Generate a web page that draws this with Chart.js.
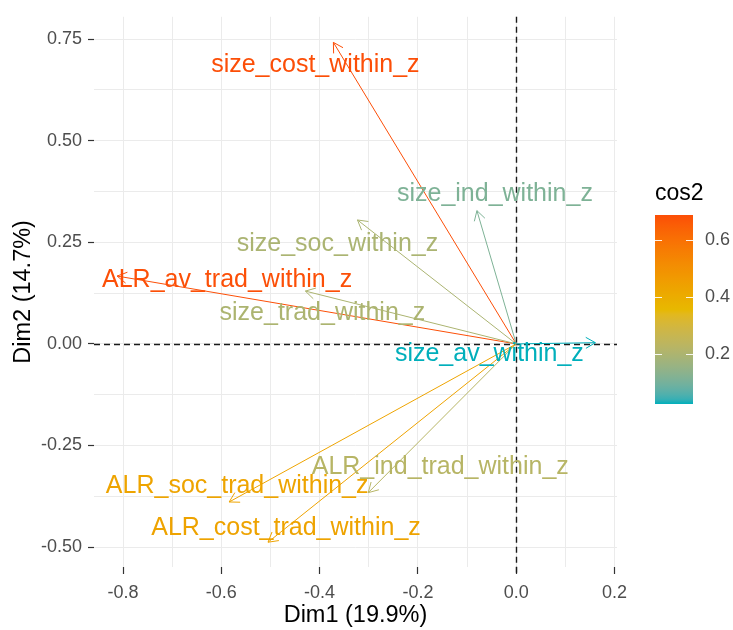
<!DOCTYPE html>
<html>
<head>
<meta charset="utf-8">
<script src="https://cdn.jsdelivr.net/npm/chart.js@4.4.1/dist/chart.umd.min.js"></script>
<style>
    html, body { margin: 0; padding: 0; background: #fff; }
    #wrap { width: 733px; height: 630px; }
</style>
</head>
<body>
<div id="wrap"><canvas id="pcaChart" width="733" height="630"></canvas></div>
<script>
(function() {
    'use strict';

    // variables
    const varNames = [
        'size_av_within_z', 'size_soc_within_z', 'size_ind_within_z', 'size_cost_within_z',
        'size_trad_within_z', 'ALR_av_trad_within_z', 'ALR_soc_trad_within_z',
        'ALR_ind_trad_within_z', 'ALR_cost_trad_within_z'
    ];
    const dim1 = [0.161, -0.323, -0.080, -0.372, -0.429, -0.812, -0.584, -0.301, -0.505];
    const dim2 = [0.003, 0.305, 0.328, 0.742, 0.130, 0.167, -0.389, -0.366, -0.488];
    const cos2 = [0.026, 0.197, 0.114, 0.689, 0.201, 0.687, 0.43, 0.225, 0.435];

    const xMajorTicks = [-0.8, -0.6, -0.4, -0.2, 0, 0.2];
    const xMinorTicks = [-0.7, -0.5, -0.3, -0.1, 0.1];
    const yMajorTicks = [-0.5, -0.25, 0, 0.25, 0.5, 0.75];
    const yMinorTicks = [-0.375, -0.125, 0.125, 0.375, 0.625];
    const legendTicks = [0.2, 0.4, 0.6];
    const gradientCols = ['#00AFBB', '#E7B800', '#FC4E07'];

    // label nudges in px (dx to text centre, dy to baseline) from arrow tip
    const labelNudge = [
        [-106, 18], [-20, 31], [18, -10], [-18, 30], [17, 29],
        [110, 11], [8, -9], [72, -19], [18, -7]
    ];

    const FONT = "'Liberation Sans', Arial, sans-serif";

    // ---- colour gradient in Lab, like ggplot ----
    function hexToRgb(h) {
        return [1, 3, 5].map(i => parseInt(h.substr(i, 2), 16));
    }
    function rgbToLab(c) {
        const lin = c.map(v => { v /= 255; return v <= 0.04045 ? v / 12.92 : Math.pow((v + 0.055) / 1.055, 2.4); });
        let x = (lin[0] * 0.4124 + lin[1] * 0.3576 + lin[2] * 0.1805) / 0.95047;
        let y = (lin[0] * 0.2126 + lin[1] * 0.7152 + lin[2] * 0.0722);
        let z = (lin[0] * 0.0193 + lin[1] * 0.1192 + lin[2] * 0.9505) / 1.08883;
        const f = t => t > 0.008856 ? Math.cbrt(t) : 7.787 * t + 16 / 116;
        x = f(x); y = f(y); z = f(z);
        return [116 * y - 16, 500 * (x - y), 200 * (y - z)];
    }
    function labToRgb(l) {
        let y = (l[0] + 16) / 116, x = l[1] / 500 + y, z = y - l[2] / 200;
        const fi = t => t * t * t > 0.008856 ? t * t * t : (t - 16 / 116) / 7.787;
        x = fi(x) * 0.95047; y = fi(y); z = fi(z) * 1.08883;
        let r = x * 3.2406 + y * -1.5372 + z * -0.4986;
        let g = x * -0.9689 + y * 1.8758 + z * 0.0415;
        let b = x * 0.0557 + y * -0.2040 + z * 1.0570;
        return [r, g, b].map(v => {
            v = v <= 0.0031308 ? 12.92 * v : 1.055 * Math.pow(v, 1 / 2.4) - 0.055;
            return Math.round(Math.max(0, Math.min(1, v)) * 255);
        });
    }
    const labCols = gradientCols.map(c => rgbToLab(hexToRgb(c)));
    const cMin = Math.min(...cos2), cMax = Math.max(...cos2);

    function colourAt(t) {
        t = Math.max(0, Math.min(1, t));
        const seg = t < 0.5 ? 0 : 1;
        const u = seg === 0 ? t * 2 : (t - 0.5) * 2;
        const a = labCols[seg], b = labCols[seg + 1];
        const rgb = labToRgb([0, 1, 2].map(i => a[i] + (b[i] - a[i]) * u));
        return 'rgb(' + rgb.join(',') + ')';
    }
    const cos2Colour = v => colourAt((v - cMin) / (cMax - cMin));

    const near = (list, v) => list.some(t => Math.abs(t - v) < 1e-9);

    // ---- plugins ----
    const zeroLines = {
        id: 'zeroLines',
        beforeDatasetsDraw(chart) {
            const { ctx, chartArea: a, scales: { x, y } } = chart;
            const x0 = Math.round(x.getPixelForValue(0)) + 0.5;
            const y0 = Math.round(y.getPixelForValue(0)) + 0.5;
            ctx.save();
            ctx.strokeStyle = '#1a1a1a';
            ctx.lineWidth = 1.4;
            ctx.setLineDash([6, 4]);
            ctx.beginPath();
            ctx.moveTo(x0, a.top); ctx.lineTo(x0, a.bottom + 6);
            ctx.moveTo(a.left, y0); ctx.lineTo(a.right, y0);
            ctx.stroke();
            ctx.restore();
        }
    };

    const arrowsAndLabels = {
        id: 'arrowsAndLabels',
        afterDatasetsDraw(chart) {
            const { ctx, scales: { x, y } } = chart;
            const x0 = x.getPixelForValue(0), y0 = y.getPixelForValue(0);
            ctx.save();
            varNames.forEach((name, i) => {
                const px = x.getPixelForValue(dim1[i]);
                const py = y.getPixelForValue(dim2[i]);
                const col = cos2Colour(cos2[i]);
                const ang = Math.atan2(py - y0, px - x0);
                const len = 11, spread = Math.PI / 6;
                ctx.strokeStyle = col;
                ctx.lineWidth = 1;
                ctx.beginPath();
                ctx.moveTo(px - len * Math.cos(ang - spread), py - len * Math.sin(ang - spread));
                ctx.lineTo(px, py);
                ctx.lineTo(px - len * Math.cos(ang + spread), py - len * Math.sin(ang + spread));
                ctx.stroke();

                ctx.fillStyle = col;
                ctx.font = '25px ' + FONT;
                ctx.textAlign = 'center';
                ctx.textBaseline = 'alphabetic';
                ctx.fillText(name, px + labelNudge[i][0], py + labelNudge[i][1]);
            });
            ctx.restore();
        }
    };

    const colourBar = {
        id: 'colourBar',
        afterDraw(chart) {
            const ctx = chart.ctx;
            const left = 655, width = 38, top = 215, bottom = 404;
            const valToY = v => bottom - (v - cMin) / (cMax - cMin) * (bottom - top);
            ctx.save();
            const grad = ctx.createLinearGradient(0, bottom, 0, top);
            for (let k = 0; k <= 40; k++) grad.addColorStop(k / 40, colourAt(k / 40));
            ctx.fillStyle = grad;
            ctx.fillRect(left, top, width, bottom - top);

            ctx.strokeStyle = 'rgba(255,255,255,0.9)';
            ctx.lineWidth = 1;
            ctx.font = '18px ' + FONT;
            ctx.fillStyle = '#4d4d4d';
            ctx.textAlign = 'left';
            ctx.textBaseline = 'middle';
            legendTicks.forEach(v => {
                const ty = Math.round(valToY(v)) + 0.5;
                ctx.beginPath();
                ctx.moveTo(left, ty); ctx.lineTo(left + 7, ty);
                ctx.moveTo(left + width - 7, ty); ctx.lineTo(left + width, ty);
                ctx.stroke();
                ctx.fillText(v.toFixed(1), left + width + 12, ty);
            });

            ctx.fillStyle = '#000';
            ctx.font = '23px ' + FONT;
            ctx.textBaseline = 'alphabetic';
            ctx.fillText('cos2', left, 200);
            ctx.restore();
        }
    };

    const datasets = varNames.map((name, i) => ({
        label: name,
        data: [{ x: 0, y: 0 }, { x: dim1[i], y: dim2[i] }],
        showLine: true,
        borderColor: cos2Colour(cos2[i]),
        borderWidth: 1,
        pointRadius: 0,
        pointHoverRadius: 0
    }));

    const gridStyle = major => ({
        color: '#ebebeb',
        lineWidth: 1,
        tickColor: ctx => near(major, ctx.tick.value) ? '#333333' : 'rgba(0,0,0,0)',
        tickWidth: 1.2
    });

    new Chart(document.getElementById('pcaChart'), {
        type: 'scatter',
        data: { datasets },
        plugins: [zeroLines, arrowsAndLabels, colourBar],
        options: {
            responsive: false,
            animation: false,
            events: [],
            layout: { padding: { left: 0, top: 12, right: 116, bottom: 0 } },
            plugins: { legend: { display: false }, tooltip: { enabled: false } },
            scales: {
                x: {
                    type: 'linear',
                    min: -0.859,
                    max: 0.205,
                    afterBuildTicks: s => { s.ticks = xMajorTicks.concat(xMinorTicks).sort((a, b) => a - b).map(v => ({ value: v })); },
                    afterFit: s => { s.height = 63; },
                    border: { display: false },
                    grid: Object.assign(gridStyle(xMajorTicks), { tickLength: 7 }),
                    ticks: {
                        padding: 8,
                        autoSkip: false,
                        maxRotation: 0,
                        color: '#4d4d4d',
                        font: { family: FONT, size: 18 },
                        callback: v => near(xMajorTicks, v) ? v.toFixed(1) : ''
                    },
                    title: {
                        display: true,
                        text: 'Dim1 (19.9%)',
                        color: '#000',
                        font: { family: FONT, size: 23.5 },
                        padding: { top: 0, bottom: 0 }
                    }
                },
                y: {
                    type: 'linear',
                    min: -0.549,
                    max: 0.805,
                    afterBuildTicks: s => { s.ticks = yMajorTicks.concat(yMinorTicks).sort((a, b) => a - b).map(v => ({ value: v })); },
                    afterFit: s => { s.width = 94; },
                    border: { display: false },
                    grid: Object.assign(gridStyle(yMajorTicks), { tickLength: 6 }),
                    ticks: {
                        padding: 6,
                        autoSkip: false,
                        color: '#4d4d4d',
                        font: { family: FONT, size: 18 },
                        callback: v => near(yMajorTicks, v) ? v.toFixed(2) : ''
                    },
                    title: {
                        display: true,
                        text: 'Dim2 (14.7%)',
                        color: '#000',
                        font: { family: FONT, size: 23.5 },
                        padding: { top: 9, bottom: 0 }
                    }
                }
            }
        }
    });
})();
</script>
</body>
</html>
